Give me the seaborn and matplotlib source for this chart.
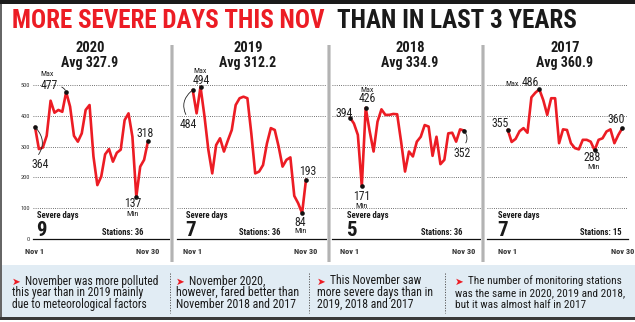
import os
import numpy as np
import pandas as pd
import matplotlib
matplotlib.use("Agg")
import matplotlib.pyplot as plt
import seaborn as sns
from matplotlib import font_manager
from matplotlib.font_manager import FontProperties
from matplotlib.patches import Rectangle
from matplotlib.lines import Line2D

# ---------------- data ----------------
years = ["2020", "2019", "2018", "2017"]
averages = ["Avg 327.9", "Avg 312.2", "Avg 334.9", "Avg 360.9"]
severe_days = [9, 7, 5, 7]
stations = [36, 36, 36, 15]
days = list(range(1, 31))
aqi_2020 = [364, 292, 297, 335, 449, 410, 419, 413, 477, 430, 335, 316, 343, 419, 435,
            268, 175, 203, 275, 292, 251, 280, 290, 386, 408, 332, 137, 235, 257, 318]
aqi_2019 = [484, 408, 494, 400, 290, 213, 305, 327, 284, 320, 354, 435, 457, 462, 457,
            343, 213, 219, 240, 310, 360, 354, 300, 235, 257, 265, 140, 116, 84, 193]
aqi_2018 = [394, 375, 338, 171, 426, 350, 284, 381, 421, 403, 403, 406, 405, 316, 219,
            284, 268, 316, 332, 370, 365, 270, 332, 243, 257, 343, 345, 316, 356, 352]
aqi_2017 = [355, 315, 325, 350, 360, 345, 460, 475, 486, 451, 403, 457, 457, 311, 356,
            354, 311, 295, 291, 322, 322, 316, 288, 322, 327, 349, 356, 311, 338, 360]
y_ticks = [0, 100, 200, 300, 400, 500]
x_tick_days = [1, 30]
x_tick_labels = ["Nov 1", "Nov 30"]
title_red = "MORE SEVERE DAYS THIS NOV"
title_black = "THAN IN LAST 3 YEARS"
notes = [
    ["November was more polluted", "this year than in 2019 mainly", "due to meteorological factors"],
    ["November 2020,", "however, fared better than", "November 2018 and 2017"],
    ["This November saw", "more severe days than in", "2019, 2018 and 2017"],
    ["The number of monitoring stations", "was the same in 2020, 2019 and 2018,", "but it was almost half in 2017"],
]

series = {"2020": aqi_2020, "2019": aqi_2019, "2018": aqi_2018, "2017": aqi_2017}
df = pd.concat([pd.DataFrame({"year": y, "day": days, "aqi": series[y]}) for y in years],
               ignore_index=True)

# ---------------- fonts ----------------
sns.set_style("white")
FAM = ["Roboto", "DejaVu Sans"]
plt.rcParams["font.family"] = FAM

RANK = ["Liberation Sans Narrow", "Roboto Condensed", "Noto Sans", "Open Sans", "Lato", "DejaVu Sans"]


def _w(v):
    if isinstance(v, str):
        return font_manager.weight_dict.get(v, 400)
    return int(v)


cands = []
for f in font_manager.fontManager.ttflist:
    base = os.path.basename(f.fname)
    tag = f.name + " " + base
    if not any(k in tag for k in ("Narrow", "Condensed")):
        continue
    if any(k in tag for k in ("SemiCondensed", "ExtraCondensed", "UltraCondensed",
                              "Semi Condensed", "Extra Condensed", "Ultra Condensed")):
        continue
    if f.style != "normal" or "Italic" in base:
        continue
    rank = len(RANK)
    for r, nm in enumerate(RANK):
        if f.name.startswith(nm):
            rank = r
            break
    cands.append((rank, _w(f.weight), f.fname))


def pick(target):
    if not cands:
        return None
    best = sorted(cands, key=lambda c: (c[0], abs(c[1] - target)))[0]
    return best[2]


F_REG = pick(400)
F_BOLD = pick(700)
F_HEAVY = pick(850)


def fp(kind, size):
    fname = {"r": F_REG, "b": F_BOLD, "h": F_HEAVY}[kind]
    if fname:
        p = FontProperties(fname=fname)
    else:
        p = FontProperties(family=FAM, weight=("normal" if kind == "r" else "bold"))
    p.set_size(size)
    return p


RED = "#ec1c24"
W, H = 635, 322


def fx(x):
    return x / W


def fy(y):
    return 1 - y / H


fig = plt.figure(figsize=(W / 100, H / 100), dpi=100)
fig.patch.set_facecolor("white")
renderer = fig.canvas.get_renderer()

# frame pieces
fig.patches.append(Rectangle((0, fy(4)), 1, 4 / H, transform=fig.transFigure,
                             facecolor="#1b1b1b", edgecolor="none", zorder=1))
fig.patches.append(Rectangle((0, fy(320)), 2 / W, 316 / H, transform=fig.transFigure,
                             facecolor="#666666", edgecolor="none", zorder=1))
fig.patches.append(Rectangle((fx(2), fy(317)), 1, 52 / H, transform=fig.transFigure,
                             facecolor="#e1ecf4", edgecolor="none", zorder=1))
fig.patches.append(Rectangle((0, fy(320)), 1, 3 / H, transform=fig.transFigure,
                             facecolor="#3a3a3a", edgecolor="none", zorder=1))

# panel separators (grey shadow)
for sx in [172, 329, 483]:
    fig.patches.append(Rectangle((fx(sx - 2), fy(262)), 4 / W, 217 / H, transform=fig.transFigure,
                                 facecolor="#d3d3d3", edgecolor="none", zorder=1))
    fig.patches.append(Rectangle((fx(sx - 0.8), fy(262)), 1.6 / W, 217 / H, transform=fig.transFigure,
                                 facecolor="#b3b3b3", edgecolor="none", zorder=1))

# dotted separators in notes strip
for sx in [170, 309, 445]:
    fig.lines.append(Line2D([fx(sx), fx(sx)], [fy(273), fy(313)], transform=fig.transFigure,
                            color="#555555", lw=0.7, ls=(0, (1.2, 1.5)), zorder=2))

# ---------------- title ----------------
t1 = fig.text(fx(12), fy(28.5), title_red, color=RED, fontproperties=fp("h", 17),
              ha="left", va="baseline")
t2 = fig.text(fx(335), fy(28.5), title_black, color="#1a1a1a", fontproperties=fp("h", 17),
              ha="left", va="baseline")
w1 = t1.get_window_extent(renderer).width
w2 = t2.get_window_extent(renderer).width
scale = (566 - 11) / (w1 + w2)
t1.set_fontproperties(fp("h", 17 * scale))
t2.set_fontproperties(fp("h", 17 * scale))
t2.set_x(fx(12 + w1 * scale + 11))

# ---------------- panels ----------------
panel_box = [(33, 170, 35, 148), (177, 326, 192.7, 306), (332, 481, 350, 464), (487, 628, 507.7, 622.3)]
AX_TOP, AX_BOT = 60, 239
PX_PER_UNIT = 0.308

year_x = [90, 248, 410, 565]
severe_x = [37, 186, 347, 498]
stations_x = [143, 280, 462, 622]

ann = {
    "2020": {"start": (5, -38), "max": (-17, 7), "min": (-4, -7), "end": (-3, 7.5),
             "maxtag": (-19, 18), "mintag": (-4, -17)},
    "2019": {"start": (-4.7, -35), "max": (1.2, 6.5), "min": (-1.6, -9), "end": (1.7, 7.6),
             "maxtag": (0, 15.8), "mintag": (-1.6, -17.5)},
    "2018": {"start": (-5.5, 4.5), "max": (2, 8.8), "min": (-0.5, -10.4), "end": (-2.2, -22.7),
             "maxtag": (1, 17.5), "mintag": (0, -20)},
    "2017": {"start": (-8, 6.2), "max": (-9.3, 6.8), "min": (-2.6, -7.7), "end": (-6, 9),
             "maxtag": (-26.8, 5.8), "mintag": (-0.6, -16.4)},
}
connectors = {
    ("2020", "start"): dict(rad=0.45, relpos=(0.25, 1.0)),
    ("2020", "max"): dict(rad=-0.35, relpos=(1.0, 0.4)),
    ("2019", "start"): dict(rad=-0.45, relpos=(0.5, 1.0)),
    ("2018", "end"): dict(rad=0.45, relpos=(0.55, 1.0)),
}

for k, yr in enumerate(years):
    L, R, a, b = panel_box[k]
    s = (b - a) / 29
    ax = fig.add_axes([fx(L), fy(AX_BOT), (R - L) / W, (AX_BOT - AX_TOP) / H])
    ax.set_facecolor("none")
    sub = df[df["year"] == yr]
    sns.lineplot(data=sub, x="day", y="aqi", ax=ax, color=RED, lw=1.9, legend=False,
                 zorder=3)
    vals = np.array(series[yr])
    idx = {"start": 0, "end": 29, "max": int(np.argmax(vals)), "min": int(np.argmin(vals))}
    pts = sub.iloc[[idx["start"], idx["max"], idx["min"], idx["end"]]]
    sns.scatterplot(data=pts, x="day", y="aqi", ax=ax, color="#111111", s=11,
                    linewidth=0, zorder=5, legend=False)

    ax.set_xlim(1 - (a - L) / s, 30 + (R - b) / s)
    ax.set_ylim(0, (AX_BOT - AX_TOP) / PX_PER_UNIT)
    ax.set_xlabel("")
    ax.set_ylabel("")
    for sp in ["top", "right", "left"]:
        ax.spines[sp].set_visible(False)
    ax.spines["bottom"].set_color("#111111")
    ax.spines["bottom"].set_linewidth(0.9)
    ax.set_yticks(y_ticks)
    ax.set_yticklabels([str(v) for v in y_ticks])
    ax.grid(axis="y", color="#444444", ls=(0, (1, 1.6)), lw=0.6)
    ax.grid(axis="x", visible=False)
    ax.tick_params(axis="y", length=0, labelleft=(k == 0), pad=2, labelcolor="#333333")
    for lbl in ax.get_yticklabels():
        lbl.set_fontproperties(fp("r", 4.6))
    ax.set_xticks(x_tick_days)
    ax.set_xticklabels(x_tick_labels)
    ax.tick_params(axis="x", length=3, width=0.8, direction="out", pad=3.6,
                   labelcolor="#333333", color="#111111")
    for lbl in ax.get_xticklabels():
        lbl.set_fontproperties(fp("b", 6))

    for key in ["start", "max", "min", "end"]:
        i = idx[key]
        dx, dy = ann[yr][key]
        kw = {}
        if (yr, key) in connectors:
            c = connectors[(yr, key)]
            kw["arrowprops"] = dict(arrowstyle="-", lw=0.6, color="#222222",
                                    connectionstyle=f"arc3,rad={c['rad']}",
                                    relpos=c["relpos"], shrinkA=0.5, shrinkB=1.5)
        ax.annotate(str(vals[i]), xy=(days[i], vals[i]), xytext=(dx, dy),
                    textcoords="offset pixels", ha="center", va="center",
                    fontproperties=fp("r", 8.5), color="#222222", annotation_clip=False,
                    zorder=6, **kw)
    mx, my = ann[yr]["maxtag"]
    ax.annotate("Max", xy=(days[idx["max"]], vals[idx["max"]]), xytext=(mx, my),
                textcoords="offset pixels", ha="center", va="center",
                fontproperties=fp("r", 5.8), color="#222222", annotation_clip=False)
    nx_, ny_ = ann[yr]["mintag"]
    ax.annotate("Min", xy=(days[idx["min"]], vals[idx["min"]]), xytext=(nx_, ny_),
                textcoords="offset pixels", ha="center", va="center",
                fontproperties=fp("r", 6), color="#222222", annotation_clip=False)

    fig.text(fx(year_x[k]), fy(48), yr, ha="center", va="center",
             fontproperties=fp("b", 10.5), color="#1a1a1a")
    fig.text(fx(year_x[k]), fy(63), averages[k], ha="center", va="center",
             fontproperties=fp("b", 10), color="#1a1a1a")
    fig.text(fx(severe_x[k]), fy(215), "Severe days", ha="left", va="center",
             fontproperties=fp("b", 6.2), color="#1a1a1a")
    fig.text(fx(severe_x[k] - 0.5), fy(236), str(severe_days[k]), ha="left", va="baseline",
             fontproperties=fp("h", 15), color="#1a1a1a")
    fig.text(fx(stations_x[k]), fy(232.5), f"Stations: {stations[k]}", ha="right", va="center",
             fontproperties=fp("b", 6.2), color="#1a1a1a")

# ---------------- notes ----------------
note_x = [12, 176, 317, 455]
note_ref = [(2, 136), (1, 123), (1, 116), (1, 170)]
line_base = [284.5, 296.2, 307.9]
for k, lines in enumerate(notes):
    ref_line, target = note_ref[k]
    probe = fig.text(0, 0, lines[ref_line], fontproperties=fp("r", 9))
    wprobe = probe.get_window_extent(renderer).width
    probe.remove()
    size = min(9 * target / wprobe, 9.2)
    fig.text(fx(note_x[k]), fy(line_base[0]), "\u27a4", color=RED, fontsize=7.5,
             ha="left", va="baseline", family=["DejaVu Sans"])
    for j, ln in enumerate(lines):
        x0 = note_x[k] + (13 if j == 0 else 0)
        fig.text(fx(x0), fy(line_base[j]), ln, color="#1a1a1a",
                 fontproperties=fp("r", size), ha="left", va="baseline")

fig.savefig("out.png", dpi=100, facecolor="white")
